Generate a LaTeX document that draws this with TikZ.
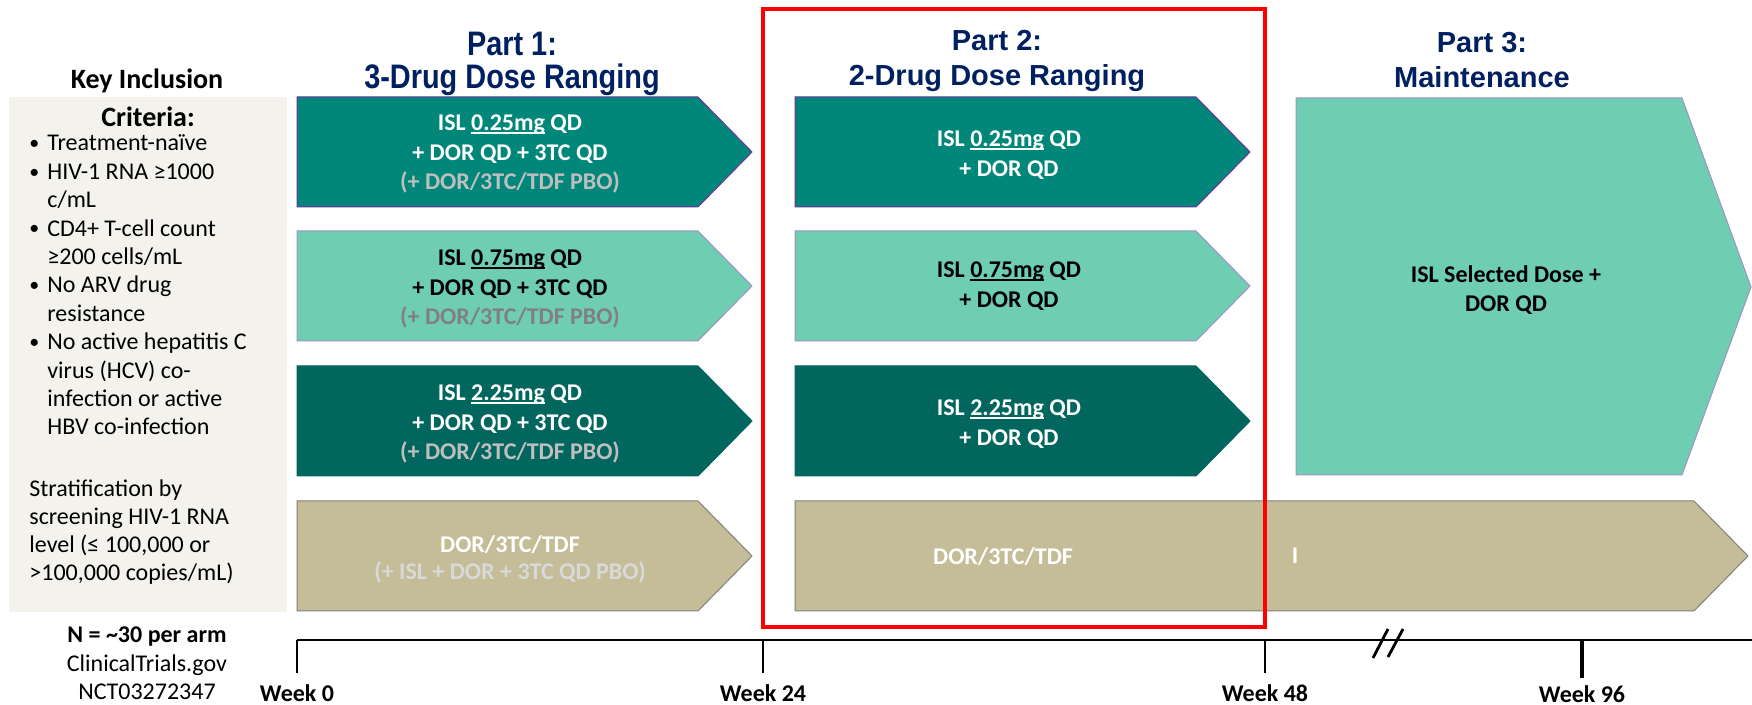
\documentclass[tikz,border=0pt]{standalone}
\usepackage{fontspec}
\setmainfont{Carlito}
\newfontfamily\headfont{Liberation Sans}
\newfontfamily\narrowhead[FakeStretch=0.85]{Liberation Sans}
\usepackage{xcolor}
\usepackage{tikz}
\usetikzlibrary{positioning}

\definecolor{navy}{HTML}{002060}
\definecolor{panelbg}{HTML}{F3F2EC}
\definecolor{armA}{HTML}{00877A}
\definecolor{armB}{HTML}{6FCDB2}
\definecolor{armC}{HTML}{00665E}
\definecolor{ctrl}{HTML}{C4BD98}
\definecolor{edgeA}{HTML}{7030A0}
\definecolor{edgeB}{HTML}{9C94C8}
\definecolor{edgeT}{HTML}{7F7F7F}
\definecolor{pboLight}{HTML}{BFBFBF}
\definecolor{pboDark}{HTML}{808080}
\definecolor{pboTan}{HTML}{D9D9D9}

% underlined dose, rule kept close to the baseline
\newcommand{\dosemark}[1]{\setbox0=\hbox{#1}\rlap{\rule[-1.6pt]{\wd0}{0.9pt}}\box0\relax}
\newcommand{\critdot}{\raisebox{0.6pt}{\fontsize{10}{10}\selectfont •}}

\begin{document}
\begin{tikzpicture}[
    x=0.5pt, y=-0.5pt,
    arm/.style={fill=#1, line width=0.5pt},
    armtext/.style={font=\fontsize{12}{14.8}\selectfont\bfseries, align=center, inner sep=0pt},
    parttitle/.style={font=\headfont\bfseries\fontsize{14.5}{17.5}\selectfont, text=navy, align=center, inner sep=0pt},
    sidehead/.style={font=\bfseries\fontsize{14}{16}\selectfont, inner sep=0pt},
    sidetext/.style={font=\fontsize{12}{14.2}\selectfont, inner sep=0pt, anchor=base west},
    weeklabel/.style={font=\bfseries\fontsize{12}{14}\selectfont, inner sep=0pt},
    tick/.style={line width=1pt},
]
\useasboundingbox (0,0) rectangle (1752,705);

% inclusion criteria panel
\fill[panelbg] (9,97) rectangle (287,612);
\node[sidehead] (keyhead) at (147,81) {Key Inclusion};
\node[sidehead] (crithead) at (148,117) {Criteria:};
\node[sidetext] (critlist) at (29,151) {\begin{tabular}[t]{@{}p{9pt}@{}l@{}}
    \critdot & Treatment-naïve\\
    \critdot & HIV-1 RNA ≥1000\\
             & c/mL\\
    \critdot & CD4+ T-cell count\\
             & ≥200 cells/mL\\
    \critdot & No ARV drug\\
             & resistance\\
    \critdot & No active hepatitis C\\
             & virus (HCV) co-\\
             & infection or active\\
             & HBV co-infection
\end{tabular}};
\node[sidetext, font=\fontsize{12}{14}\selectfont] (strat) at (29,497) {\begin{tabular}[t]{@{}l@{}}
    Stratification by\\
    screening HIV-1 RNA\\
    level (≤ 100,000 or\\
    >100,000 copies/mL)
\end{tabular}};
\node[weeklabel] (narm) at (147,637) {N = \textasciitilde30 per arm};
\node[font=\fontsize{12}{14}\selectfont, inner sep=0pt] (ctgov) at (147,665) {ClinicalTrials.gov};
\node[font=\fontsize{12}{14}\selectfont, inner sep=0pt] (nct) at (147,692) {NCT03272347};

% part titles
\node[parttitle, font=\narrowhead\bfseries\fontsize{17}{16.5}\selectfont] (part1) at (512,64) {Part 1:\\3-Drug Dose Ranging};
\node[parttitle] (part2) at (997,61) {Part 2:\\2-Drug Dose Ranging};
\node[parttitle] (part3) at (1482,60) {Part 3:\\Maintenance};

% part 1 and part 2 dose arms
\foreach \top/\fillc/\edgec in {97/armA/edgeA, 231/armB/edgeB, 366/armC/armC} {
    \draw[arm=\fillc, draw=\edgec] (297,\top) -- (698,\top) -- (752,{\top+55}) -- (698,{\top+110}) -- (297,{\top+110}) -- cycle;
    \draw[arm=\fillc, draw=\edgec] (795,\top) -- (1196,\top) -- (1250,{\top+55}) -- (1196,{\top+110}) -- (795,{\top+110}) -- cycle;
}
% control arms
\draw[arm=ctrl, draw=edgeT] (297,501) -- (698,501) -- (752,556) -- (698,611) -- (297,611) -- cycle;
\draw[arm=ctrl, draw=edgeT] (795,501) -- (1694,501) -- (1748,556) -- (1694,611) -- (795,611) -- cycle;
% maintenance arm
\draw[arm=armB, draw=edgeB] (1296,98) -- (1682,98) -- (1751,287) -- (1682,475) -- (1296,475) -- cycle;

\node[armtext, text=white] (p1lo) at (510,154) {ISL \dosemark{0.25mg} QD\\+ DOR QD + 3TC QD\\\textcolor{pboLight}{(+ DOR/3TC/TDF PBO)}};
\node[armtext, text=black] (p1mid) at (510,289) {ISL \dosemark{0.75mg} QD\\+ DOR QD + 3TC QD\\\textcolor{pboDark}{(+ DOR/3TC/TDF PBO)}};
\node[armtext, text=white] (p1hi) at (510,424) {ISL \dosemark{2.25mg} QD\\+ DOR QD + 3TC QD\\\textcolor{pboLight}{(+ DOR/3TC/TDF PBO)}};
\node[armtext, text=white, font=\fontsize{12}{13.5}\selectfont\bfseries] (p1ctl) at (510,559) {DOR/3TC/TDF\\\textcolor{pboTan}{(+ ISL + DOR + 3TC QD PBO)}};

\node[armtext, text=white] (p2lo) at (1009,155) {ISL \dosemark{0.25mg} QD\\+ DOR QD};
\node[armtext, text=black] (p2mid) at (1009,286) {ISL \dosemark{0.75mg} QD\\+ DOR QD};
\node[armtext, text=white] (p2hi) at (1009,424) {ISL \dosemark{2.25mg} QD\\+ DOR QD};
\node[armtext, text=white] (p2ctl) at (1003,557) {DOR/3TC/TDF};
\node[armtext, text=white] (stray) at (1295,556) {I};

\node[armtext, text=black] (p3arm) at (1506,290) {ISL Selected Dose +\\DOR QD};

% highlighted part 2 window
\draw[red, line width=2pt] (763,9) rectangle (1265,627);

% time axis
\draw[line width=1.3pt] (297,640) -- (1707,640);
\draw[line width=0.6pt] (1707,640) -- (1752,640);
\foreach \wx/\wk in {297/0, 763/24, 1265/48} {
    \draw[tick] (\wx,640) -- (\wx,673);
    \node[weeklabel] (wk\wk) at (\wx,693) {Week \wk};
}
\draw[line width=1.6pt] (1582,640) -- (1582,678);
\node[weeklabel] (wk96) at (1582,694) {Week 96};
\draw[line width=1.4pt] (1373,658) -- (1388,629);
\draw[line width=1.4pt] (1388,657) -- (1403,629);

\end{tikzpicture}
\end{document}
